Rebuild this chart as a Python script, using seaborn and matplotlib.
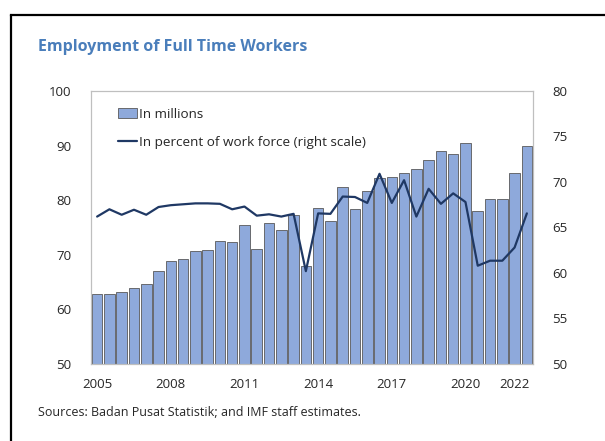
import matplotlib
matplotlib.use("Agg")
import matplotlib.pyplot as plt
from matplotlib.lines import Line2D
from matplotlib.patches import Patch
import numpy as np
import pandas as pd
import seaborn as sns

# Semiannual observations, February and August, 2005-2022
years = list(range(2005, 2023))
periods = [f"{y}-{h}" for y in years for h in ("Feb", "Aug")]

# Full-time workers, millions (left scale)
workers_mn = [62.9, 62.9, 63.2, 63.9, 64.65, 67.1, 68.9, 69.2, 70.7, 70.9,
              72.5, 72.4, 75.4, 71.1, 75.8, 74.5, 77.2, 67.9, 78.6, 76.1,
              82.5, 78.4, 81.7, 84.1, 84.2, 84.9, 85.7, 87.4, 89.0, 88.5,
              90.4, 78.0, 80.3, 80.3, 85.0, 90.0]

# Full-time workers, percent of work force (right scale)
share_pct = [66.2, 67.0, 66.4, 66.95, 66.4, 67.25, 67.45, 67.55, 67.65, 67.65,
             67.6, 67.0, 67.3, 66.3, 66.45, 66.2, 66.5, 60.2, 66.55, 66.5,
             68.4, 68.35, 67.7, 70.9, 67.7, 70.2, 66.2, 69.25, 67.6, 68.75,
             67.8, 60.8, 61.35, 61.35, 62.8, 66.55]

tick_years = ["2005", "2008", "2011", "2014", "2017", "2020", "2022"]

df = pd.DataFrame({"period": periods, "millions": workers_mn,
                   "percent": share_pct, "pos": np.arange(len(periods))})

sns.set_theme(style="white")
plt.rcParams["font.family"] = ["Open Sans", "DejaVu Sans"]

BAR = "#8EA9DB"
LINE = "#1F3864"
FRAME = "#BFBFBF"
TXT = "#262626"

fig = plt.figure(figsize=(6.05, 4.41), dpi=100)
ax = fig.add_axes([0.1504, 0.1746, 0.7306, 0.6191])

sns.barplot(data=df, x="period", y="millions", ax=ax, color=BAR,
            saturation=1, width=0.86, edgecolor="#595959", linewidth=0.6)
ax.set_xlim(-0.5, len(periods) - 0.5)
ax.set_ylim(50, 100)
ax.set_yticks(range(50, 101, 10))

ax2 = ax.twinx()
sns.lineplot(data=df, x="pos", y="percent", ax=ax2, color=LINE, linewidth=1.6)
ax2.set_ylim(50, 80)
ax2.set_yticks(range(50, 81, 5))
ax2.set_xlim(-0.5, len(periods) - 0.5)

tick_pos = [periods.index(f"{y}-Feb") for y in tick_years]
ax.set_xticks(tick_pos)
ax.set_xticklabels(tick_years)

for a in (ax, ax2):
    a.set_xlabel("")
    a.set_ylabel("")
    for s in a.spines.values():
        s.set_color(FRAME)
        s.set_linewidth(0.8)
ax.tick_params(axis="y", length=0, pad=14, labelsize=9.5, labelcolor=TXT)
ax.tick_params(axis="x", length=0, pad=10, labelsize=9.5, labelcolor=TXT)
ax2.tick_params(axis="y", length=0, pad=14, labelsize=9.5, labelcolor=TXT)

handles = [Patch(facecolor=BAR, edgecolor="#595959", linewidth=0.6),
           Line2D([0], [0], color=LINE, linewidth=1.6)]
labels = ["In millions", "In percent of work force (right scale)"]
ax2.legend(handles, labels, loc="upper left", bbox_to_anchor=(0.042, 0.968),
           frameon=False, fontsize=9.7, handlelength=1.4, handleheight=0.8,
           handletextpad=0.15, labelspacing=1.1, borderaxespad=0.2,
           labelcolor=TXT)

fig.text(38 / 605, 1 - 47 / 441, "Employment of Full Time Workers",
         fontsize=11.5, fontweight="bold", color="#4A7EBB", va="center", ha="left")
fig.text(38 / 605, 1 - 413 / 441,
         "Sources: Badan Pusat Statistik; and IMF staff estimates.",
         fontsize=9, color=TXT, va="center", ha="left")

# Frame edges on the left and top of the panel
fig.add_artist(Line2D([10.5 / 605, 10.5 / 605], [0, 1 - 14.5 / 441],
                      transform=fig.transFigure, color="black", linewidth=1.6))
fig.add_artist(Line2D([10.5 / 605, 1], [1 - 14.5 / 441, 1 - 14.5 / 441],
                      transform=fig.transFigure, color="black", linewidth=1.6,
                      solid_capstyle="projecting"))

fig.savefig("out.png", dpi=100)
